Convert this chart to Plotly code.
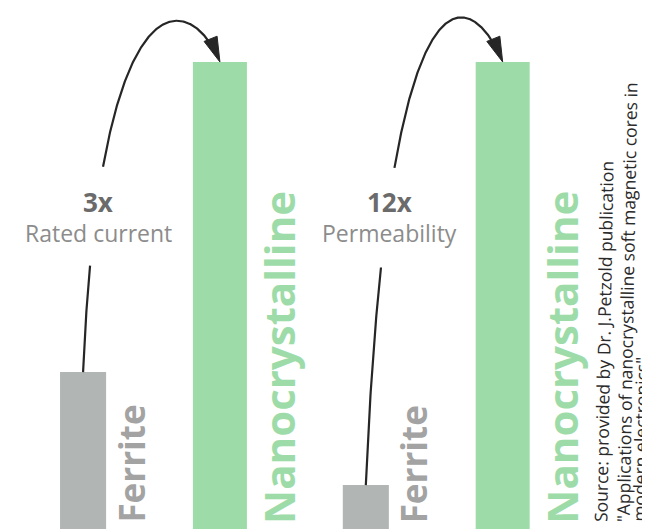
import numpy as np
import plotly.graph_objects as go

# ---- data (Nanocrystalline = 100 %) ----
groups = ["Rated current", "Permeability"]
multipliers = ["3x", "12x"]
materials = ["Ferrite", "Nanocrystalline"]
ferrite_values = [33.6, 9.4]
nano_values = [100, 100]
source_lines = [
    "Source: provided by Dr. J.Petzold publication",
    "\"Applications of nanocrystalline soft magnetic cores in",
    "modern electronics\"",
]

# ---- layout / style ----
OFF = 8                      # page body margin of the html output
W, H = 650 - OFF, 529 - OFF  # figure size so that it ends at the window edge
FERRITE_COLOR = "#b1b5b3"
NANO_COLOR = "#9ddca9"
FERRITE_TEXT = "#a3a3a3"
NANO_TEXT = "#9ddca9"
ARROW_COLOR = "#262626"
group_pos = np.arange(len(groups), dtype=float)
bar_dx = 0.242
ferrite_width = 0.163
nano_width = 0.191
UNIT = 282.75                      # pixels per group
X0 = -(151.5 - OFF) / UNIT
XR = [X0, X0 + W / UNIT]
YR = [0, 100 * H / 467]
label_dx = [15, 24]
source_left = [586.5, 608.5, 625.0]   # window x of each source line box
FONT = "Open Sans"


# conversions between window pixels and data values
def x2px(x):
    return OFF + (x - XR[0]) / (XR[1] - XR[0]) * W


def y2px(y):
    return OFF + H * (1 - (y - YR[0]) / (YR[1] - YR[0]))


def px2x(px):
    return XR[0] + (px - OFF) / W * (XR[1] - XR[0])


def px2y(py):
    return YR[0] + (1 - (py - OFF) / H) * (YR[1] - YR[0])


fx = group_pos - bar_dx
nx = group_pos + bar_dx

fig = go.Figure()
fig.add_trace(go.Bar(x=fx, y=ferrite_values, width=ferrite_width,
                     marker=dict(color=FERRITE_COLOR, line=dict(width=0)),
                     name="Ferrite", hoverinfo="skip"))
fig.add_trace(go.Bar(x=nx, y=nano_values, width=nano_width,
                     marker=dict(color=NANO_COLOR, line=dict(width=0)),
                     name="Nanocrystalline", hoverinfo="skip"))

annotations = []
for g in range(len(groups)):
    # curved arrow from ferrite top to nanocrystalline top
    p0 = np.array([x2px(fx[g]), y2px(ferrite_values[g])])
    p3 = np.array([x2px(nx[g]), y2px(nano_values[g])])
    rise = p0[1] - p3[1]
    p1 = p0 + np.array([0.055 * rise, -1.3 * rise])
    p2 = p3 + np.array([-29, -72])
    t = np.linspace(0, 1, 400)[:, None]
    pts = ((1 - t) ** 3) * p0 + 3 * ((1 - t) ** 2) * t * p1 + 3 * (1 - t) * t ** 2 * p2 + t ** 3 * p3
    d = (p3 - p2) / np.linalg.norm(p3 - p2)
    nrm = np.array([-d[1], d[0]])
    head_len, head_half = 25, 7
    xs, ys = [], []
    for (px, py) in pts:
        if 168 < py < 265 and px < p0[0] + 40:
            if xs and xs[-1] is not None:
                xs.append(None)
                ys.append(None)
            continue
        if np.hypot(px - p3[0], py - p3[1]) < head_len - 6:
            continue
        xs.append(px2x(px))
        ys.append(px2y(py))
    fig.add_trace(go.Scatter(x=xs, y=ys, mode="lines",
                             line=dict(color=ARROW_COLOR, width=2.2),
                             hoverinfo="skip", showlegend=False))
    base = p3 - head_len * d
    tri = [p3, base + head_half * nrm, base - head_half * nrm, p3]
    fig.add_trace(go.Scatter(x=[px2x(p[0]) for p in tri], y=[px2y(p[1]) for p in tri],
                             mode="lines", fill="toself", fillcolor=ARROW_COLOR,
                             line=dict(color=ARROW_COLOR, width=1),
                             hoverinfo="skip", showlegend=False))

    # multiplier and property labels
    annotations.append(dict(x=fx[g], y=px2y(202), xref="x", yref="y",
                            xshift=label_dx[g], text="<b>%s</b>" % multipliers[g],
                            showarrow=False, xanchor="center", yanchor="middle",
                            font=dict(family=FONT, size=26, color="#6b6b6b")))
    annotations.append(dict(x=fx[g], y=px2y(233), xref="x", yref="y",
                            xshift=label_dx[g], text=groups[g],
                            showarrow=False, xanchor="center", yanchor="middle",
                            font=dict(family=FONT, size=23, color="#8c8c8c")))

    # rotated material labels
    annotations.append(dict(x=fx[g] + ferrite_width / 2, y=px2y(525), xref="x", yref="y",
                            xshift=-1, text="<b>%s</b>" % materials[0], textangle=-90,
                            showarrow=False, xanchor="left", yanchor="bottom",
                            font=dict(family=FONT, size=35, color=FERRITE_TEXT)))
    annotations.append(dict(x=nx[g] + nano_width / 2, y=px2y(526), xref="x", yref="y",
                            xshift=1, text="<b>%s</b>" % materials[1], textangle=-90,
                            showarrow=False, xanchor="left", yanchor="bottom",
                            font=dict(family=FONT, size=42, color=NANO_TEXT)))

for line, left in zip(source_lines, source_left):
    annotations.append(dict(x=(left - OFF) / W, y=1 - (524 - OFF) / H,
                            xref="paper", yref="paper",
                            text=line, textangle=-89, align="left",
                            showarrow=False, xanchor="left", yanchor="bottom",
                            font=dict(family=FONT, size=17.5, color="#2a2a2a")))

fig.update_layout(
    width=W, height=H,
    margin=dict(l=0, r=0, t=0, b=0),
    paper_bgcolor="white", plot_bgcolor="white",
    showlegend=False, barmode="overlay",
    xaxis=dict(range=XR, visible=False, fixedrange=True),
    yaxis=dict(range=YR, visible=False, fixedrange=True),
    annotations=annotations,
)
fig.write_html("out.html")
